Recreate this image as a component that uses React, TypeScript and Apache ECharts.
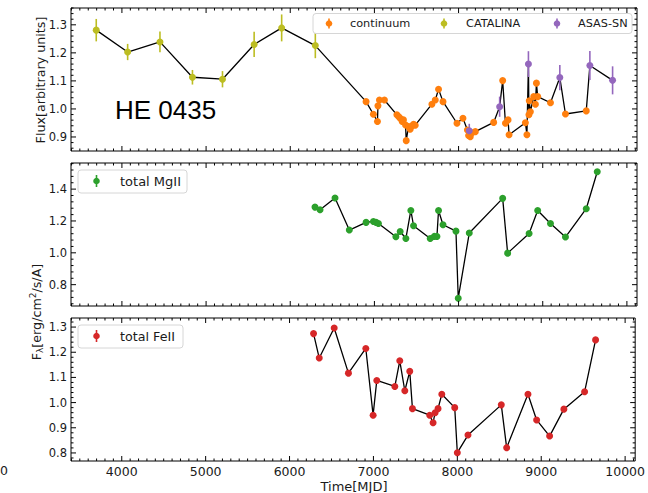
import React, { useEffect, useRef } from "react";
import * as echarts from "echarts";

// ---------------- data ----------------
const catalinaMJD = [3695, 4068, 4452, 4838, 5195, 5571, 5898, 6298];
const catalinaFlux = [1.281, 1.203, 1.239, 1.113, 1.106, 1.23, 1.289, 1.226];
const catalinaErr = [0.04, 0.029, 0.037, 0.026, 0.029, 0.045, 0.048, 0.045];

const continuumMJD = [
  6901, 6988, 7036, 7042, 7060, 7119, 7267, 7290, 7306, 7330, 7345, 7370, 7378, 7405,
  7425, 7445, 7465, 7485, 7683, 7723, 7762, 7815, 7981, 8052, 8105, 8119, 8139, 8160,
  8199, 8417, 8524, 8557, 8588, 8600, 8794, 8812, 8836, 8840, 8853, 8893, 8913, 8925,
  8940, 9092, 9270, 9517,
];
const continuumFlux = [
  1.026, 0.981, 0.955, 1.011, 1.032, 1.032, 0.979, 0.972, 0.967, 0.955, 0.961, 0.943,
  0.887, 0.937, 0.928, 0.939, 0.945, 0.942, 1.017, 1.032, 1.07, 1.026, 0.949, 0.967,
  0.925, 0.905, 0.901, 0.915, 0.919, 0.952, 1.101, 0.949, 0.961, 0.908, 0.951, 0.908,
  0.979, 1.029, 0.99, 1.044, 1.017, 1.092, 1.044, 1.022, 0.982, 0.993,
];

const asasMJD = [8127, 8488, 8830, 9203, 9560, 9830];
const asasFlux = [0.922, 1.008, 1.16, 1.112, 1.155, 1.102];
const asasErr = [0.025, 0.036, 0.046, 0.045, 0.052, 0.05];

const mg2MJD = [
  6294, 6354, 6532, 6702, 6901, 6988, 7020, 7048, 7255, 7306, 7374, 7433, 7465, 7663,
  7711, 7743, 7762, 7815, 7969, 7996, 8127, 8524, 8583, 8838, 8940, 9092, 9270, 9517, 9648,
];
const mg2Flux = [
  1.287, 1.27, 1.344, 1.143, 1.191, 1.197, 1.191, 1.184, 1.101, 1.134, 1.09, 1.266, 1.17,
  1.09, 1.103, 1.103, 1.266, 1.176, 1.136, 0.715, 1.124, 1.342, 0.998, 1.121, 1.266, 1.184,
  1.099, 1.277, 1.509,
];

const fe2MJD = [
  6286, 6354, 6532, 6702, 6909, 6996, 7040, 7255, 7314, 7374, 7433, 7465, 7671, 7711,
  7735, 7770, 7815, 7969, 8000, 8127, 8524, 8588, 8842, 8945, 9100, 9270, 9517, 9648,
];
const fe2Flux = [
  1.274, 1.177, 1.296, 1.117, 1.215, 0.95, 1.088, 1.064, 1.166, 1.047, 1.124, 0.976, 0.95,
  0.92, 0.96, 0.976, 1.033, 0.98, 0.801, 0.871, 0.991, 0.821, 1.033, 0.931, 0.867, 0.974,
  1.043, 1.249,
];

const xTickLabels = [4000, 5000, 6000, 7000, 8000, 9000, 10000];
const yTicksTop = [0.9, 1.0, 1.1, 1.2, 1.3];
const yTicksMid = [0.8, 1.0, 1.2, 1.4];
const yTicksBot = [0.8, 0.9, 1.0, 1.1, 1.2, 1.3];

// ---------------- layout / style ----------------
const COLORS = {
  continuum: "#ff7f0e",
  catalina: "#bcbd22",
  asas: "#9467bd",
  mg: "#2ca02c",
  fe: "#d62728",
};
const FONT = "DejaVu Sans";
const TXT = "#1a1a1a";
const GRID_LEFT = 71;
const GRID_W = 566;
const GRIDS = [
  { top: 8, height: 143 },
  { top: 163, height: 143 },
  { top: 318, height: 143 },
];
const X_MIN = 3395;
const X_MAX = 10120;
const Y_RANGES = [
  [0.85, 1.36],
  [0.666, 1.564],
  [0.768, 1.336],
];
const Y_MAJORS = [yTicksTop, yTicksMid, yTicksBot];
const Y_MINOR_STEP = [0.02, 0.04, 0.02];
const MAJOR_LEN = 5;
const MINOR_LEN = 2.5;

function steps(a: number, b: number, s: number) {
  const out: number[] = [];
  const n = Math.round((b - a) / s);
  for (let i = 0; i <= n; i++) out.push(Math.round((a + i * s) * 10000) / 10000);
  return out;
}

// custom series drawing frame + inward ticks on all four sides of one grid
function frameSeries(g: number) {
  const [ymin, ymax] = Y_RANGES[g];
  const xMinor = steps(3400, 10100, 100).filter((v) => !xTickLabels.includes(v));
  const step = Y_MINOR_STEP[g];
  const first = Math.ceil(ymin / step - 1e-9) * step;
  const yMinor = steps(first, ymax, step).filter(
    (v) => v >= ymin && v <= ymax && !Y_MAJORS[g].some((m) => Math.abs(m - v) < 1e-6)
  );
  const data: number[][] = [
    ...xTickLabels.map((v) => [0, v, MAJOR_LEN]),
    ...xMinor.map((v) => [0, v, MINOR_LEN]),
    ...Y_MAJORS[g].map((v) => [1, v, MAJOR_LEN]),
    ...yMinor.map((v) => [1, v, MINOR_LEN]),
    [2, 0, 0],
  ];
  return {
    type: "custom",
    name: "frame" + g,
    xAxisIndex: g,
    yAxisIndex: g,
    z: 10,
    silent: true,
    clip: false,
    encode: { x: 1, y: 2 },
    data,
    renderItem: (_p: any, api: any) => {
      const kind = api.value(0);
      const v = api.value(1);
      const len = api.value(2);
      const st = { stroke: "#000", lineWidth: 1 };
      if (kind === 0) {
        const b = api.coord([v, ymin]);
        const t = api.coord([v, ymax]);
        return {
          type: "group",
          children: [
            { type: "line", shape: { x1: b[0], y1: b[1], x2: b[0], y2: b[1] - len }, style: st },
            { type: "line", shape: { x1: t[0], y1: t[1], x2: t[0], y2: t[1] + len }, style: st },
          ],
        };
      }
      if (kind === 1) {
        const l = api.coord([X_MIN, v]);
        const r = api.coord([X_MAX, v]);
        return {
          type: "group",
          children: [
            { type: "line", shape: { x1: l[0], y1: l[1], x2: l[0] + len, y2: l[1] }, style: st },
            { type: "line", shape: { x1: r[0], y1: r[1], x2: r[0] - len, y2: r[1] }, style: st },
          ],
        };
      }
      const p0 = api.coord([X_MIN, ymax]);
      const p1 = api.coord([X_MAX, ymin]);
      return {
        type: "rect",
        shape: { x: p0[0], y: p0[1], width: p1[0] - p0[0], height: p1[1] - p0[1] },
        style: { stroke: "#000", lineWidth: 1, fill: "none" },
      };
    },
  };
}

function buildAxes() {
  const xAxes: any[] = [];
  const yAxes: any[] = [];
  GRIDS.forEach((_, g) => {
    const [ymin, ymax] = Y_RANGES[g];
    xAxes.push({
      type: "value",
      gridIndex: g,
      min: X_MIN,
      max: X_MAX,
      position: "bottom",
      splitLine: { show: false },
      axisLine: { show: false, onZero: false },
      axisTick: { show: false },
      axisLabel: {
        show: g === 2,
        customValues: xTickLabels,
        formatter: (v: number) => String(v),
        color: TXT,
        fontFamily: FONT,
        fontSize: 12.5,
        lineHeight: 12,
        margin: 4,
      },
    });
    yAxes.push({
      type: "value",
      gridIndex: g,
      min: ymin,
      max: ymax,
      position: "left",
      splitLine: { show: false },
      axisLine: { show: false, onZero: false },
      axisTick: { show: false },
      axisLabel: {
        show: true,
        customValues: Y_MAJORS[g],
        formatter: (v: number) => v.toFixed(1),
        color: TXT,
        fontFamily: FONT,
        fontSize: 11.5,
        margin: 4,
      },
    });
  });
  return { xAxes, yAxes };
}

function errSeries(name: string, mjd: number[], flux: number[], err: number[], color: string) {
  return {
    type: "custom",
    name: name + "-err",
    xAxisIndex: 0,
    yAxisIndex: 0,
    z: 3,
    encode: { x: 0, y: [1, 2] },
    data: mjd.map((m, i) => [m, flux[i] - err[i], flux[i] + err[i]]),
    renderItem: (_p: any, api: any) => {
      const a = api.coord([api.value(0), api.value(1)]);
      const b = api.coord([api.value(0), api.value(2)]);
      return {
        type: "line",
        shape: { x1: a[0], y1: a[1], x2: b[0], y2: b[1] },
        style: { stroke: color, lineWidth: 1.6 },
      };
    },
  };
}

function legendMarker(x: number, y: number, color: string, half: number) {
  return [
    { type: "line", z: 95, shape: { x1: x, y1: y - half, x2: x, y2: y + half }, style: { stroke: color, lineWidth: 1.6 } },
    { type: "circle", z: 96, shape: { cx: x, cy: y, r: 3.3 }, style: { fill: color } },
  ];
}

function txt(text: string, x: number, y: number, size: number, extra: any = {}) {
  return {
    type: "text",
    x,
    y,
    z: 100,
    style: {
      text,
      fill: TXT,
      fontFamily: FONT,
      fontSize: size,
      align: "left",
      verticalAlign: "middle",
      ...extra,
    },
  };
}

export default function App() {
  const ref = useRef<HTMLDivElement>(null);
  useEffect(() => {
    if (!ref.current) return;
    const chart = echarts.init(ref.current, null, { renderer: "svg" });
    const { xAxes, yAxes } = buildAxes();

    const combined = [
      ...catalinaMJD.map((m, i) => [m, catalinaFlux[i]]),
      ...continuumMJD.map((m, i) => [m, continuumFlux[i]]),
      ...asasMJD.map((m, i) => [m, asasFlux[i]]),
    ].sort((a, b) => a[0] - b[0]);

    const scatter = (name: string, mjd: number[], flux: number[], color: string) => ({
      type: "scatter",
      name,
      xAxisIndex: 0,
      yAxisIndex: 0,
      z: 4,
      symbol: "circle",
      symbolSize: 7,
      itemStyle: { color, opacity: 1 },
      data: mjd.map((m, i) => [m, flux[i]]),
    });

    const lineWithMarkers = (name: string, mjd: number[], flux: number[], color: string, idx: number) => ({
      type: "line",
      name,
      xAxisIndex: idx,
      yAxisIndex: idx,
      symbol: "circle",
      symbolSize: 7,
      showSymbol: true,
      itemStyle: { color },
      lineStyle: { color: "#000", width: 1.3 },
      data: mjd.map((m, i) => [m, flux[i]]),
    });

    const graphic: any[] = [
      // top legend
      {
        type: "rect",
        z: 90,
        shape: { x: 313, y: 13.5, width: 319, height: 20, r: 3 },
        style: { fill: "rgba(255,255,255,0.85)", stroke: "#d6d6d6", lineWidth: 1 },
      },
      ...legendMarker(329, 23.5, COLORS.continuum, 5),
      txt("continuum", 350, 23.5, 11.3),
      ...legendMarker(444, 23.5, COLORS.catalina, 5),
      txt("CATALINA", 466, 23.5, 11.3),
      ...legendMarker(557, 23.5, COLORS.asas, 5),
      txt("ASAS-SN", 578, 23.5, 11.3),
      // middle legend
      {
        type: "rect",
        z: 90,
        shape: { x: 78, y: 170, width: 109, height: 23, r: 3 },
        style: { fill: "rgba(255,255,255,0.85)", stroke: "#d6d6d6", lineWidth: 1 },
      },
      ...legendMarker(96.5, 181, COLORS.mg, 6),
      txt("total MgII", 120, 181, 13),
      // bottom legend
      {
        type: "rect",
        z: 90,
        shape: { x: 78, y: 325, width: 105, height: 23, r: 3 },
        style: { fill: "rgba(255,255,255,0.85)", stroke: "#d6d6d6", lineWidth: 1 },
      },
      ...legendMarker(96.5, 336, COLORS.fe, 6),
      txt("total FeII", 120, 336, 12.7),
      // annotation
      txt("HE 0435", 115, 109.5, 26, { fontFamily: "Liberation Sans", fill: "#000" }),
      // axis titles
      txt("Time[MJD]", 354, 486.5, 13, { align: "center", lineHeight: 13 }),
      {
        ...txt("Flux[arbitrary units]", 40, 80, 12.7, { align: "center" }),
        rotation: Math.PI / 2,
      },
      {
        type: "text",
        x: 36,
        y: 312,
        z: 100,
        rotation: Math.PI / 2,
        style: {
          text: "{n|F}{s|λ}{n|[erg/cm}{p|2}{n|/s/A]}",
          align: "center",
          verticalAlign: "middle",
          fill: TXT,
          rich: {
            n: { fontFamily: FONT, fontSize: 12.7, lineHeight: 16, fill: TXT },
            s: { fontFamily: FONT, fontSize: 9, lineHeight: 10, verticalAlign: "bottom", fill: TXT },
            p: { fontFamily: FONT, fontSize: 9, lineHeight: 10, verticalAlign: "top", fill: TXT },
          },
        },
      },
      txt("0", 0, 470.5, 12.5, { lineHeight: 12 }),
    ];

    chart.setOption({
      animation: false,
      backgroundColor: "#fff",
      grid: GRIDS.map((g) => ({ left: GRID_LEFT, width: GRID_W, top: g.top, height: g.height })),
      xAxis: xAxes,
      yAxis: yAxes,
      series: [
        frameSeries(0),
        frameSeries(1),
        frameSeries(2),
        {
          type: "line",
          name: "flux-line",
          xAxisIndex: 0,
          yAxisIndex: 0,
          z: 2,
          symbol: "none",
          lineStyle: { color: "#000", width: 1.3 },
          data: combined,
        },
        errSeries("CATALINA", catalinaMJD, catalinaFlux, catalinaErr, COLORS.catalina),
        errSeries("ASAS-SN", asasMJD, asasFlux, asasErr, COLORS.asas),
        scatter("continuum", continuumMJD, continuumFlux, COLORS.continuum),
        scatter("CATALINA", catalinaMJD, catalinaFlux, COLORS.catalina),
        scatter("ASAS-SN", asasMJD, asasFlux, COLORS.asas),
        lineWithMarkers("total MgII", mg2MJD, mg2Flux, COLORS.mg, 1),
        lineWithMarkers("total FeII", fe2MJD, fe2Flux, COLORS.fe, 2),
      ],
      graphic,
    });
    return () => chart.dispose();
  }, []);
  return (
    <div
      ref={ref}
      style={{ position: "absolute", left: 0, top: 0, width: 648, height: 493 }}
    />
  );
}
